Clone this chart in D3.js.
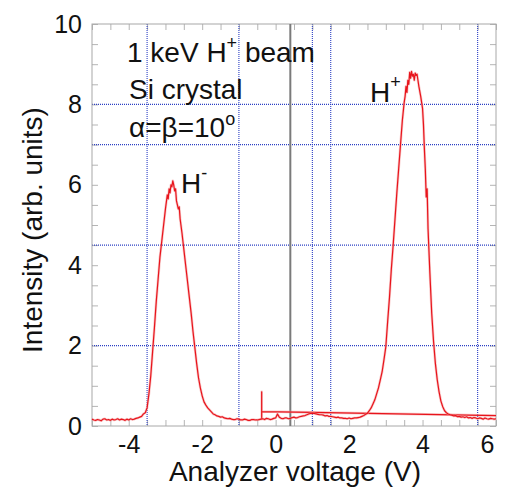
<!DOCTYPE html>
<html>
<head>
<meta charset="utf-8">
<script src="https://cdn.jsdelivr.net/npm/d3@7"></script>
<style>
  html, body { margin: 0; padding: 0; background: #fff; }
  svg { display: block; }
  text { font-family: "Liberation Sans", Arial, Helvetica, sans-serif; fill: #111; }
</style>
</head>
<body>
<svg id="chart" width="507" height="488"></svg>
<script>
// ---------- data ----------
const voltage = [
  -5.0,-4.95,-4.9,-4.85,-4.8,-4.75,-4.7,-4.65,-4.6,-4.55,-4.5,-4.45,-4.4,-4.35,-4.3,-4.25,-4.2,-4.15,-4.1,-4.05,-4.0,-3.95,-3.9,-3.85,-3.8,-3.75,-3.7,-3.65,-3.6,
  -3.55,-3.5,-3.45,-3.4,-3.35,-3.3,-3.25,-3.2,-3.15,-3.1,-3.05,-3.0,-2.95,-2.925,-2.9,-2.875,-2.85,-2.825,-2.8,-2.775,-2.75,-2.725,-2.7,-2.65,-2.625,-2.6,-2.55,-2.5,-2.45,-2.4,-2.35,-2.3,-2.25,-2.2,-2.15,-2.1,-2.05,-2.0,-1.95,-1.9,-1.85,-1.8,-1.75,-1.7,-1.65,-1.6,
  -1.55,-1.5,-1.45,-1.4,-1.35,-1.3,-1.25,-1.2,-1.15,-1.1,-1.05,-1.0,-0.95,-0.9,-0.85,-0.8,-0.75,-0.7,-0.65,-0.6,-0.55,-0.5,-0.45,-0.4,-0.35,-0.3,-0.25,-0.2,-0.15,-0.1,-0.05,
  0.0,0.05,0.1,0.15,0.2,0.25,0.3,0.35,0.4,0.45,0.5,0.55,0.6,0.65,0.7,0.75,0.8,0.85,0.9,0.95,1.0,1.05,1.1,1.15,1.2,1.25,1.3,1.35,1.4,1.45,1.5,1.55,1.6,1.65,1.7,1.75,1.8,1.85,1.9,1.95,2.0,2.05,2.1,2.15,2.2,2.25,2.3,2.35,2.4,2.45,
  2.5,2.55,2.6,2.65,2.7,2.75,2.8,2.85,2.9,2.95,3.0,3.05,3.1,3.15,3.2,3.25,3.3,3.35,3.4,3.45,3.5,3.525,3.55,3.575,3.6,3.625,3.65,3.675,3.7,3.725,3.75,3.775,3.8,3.825,3.85,3.875,3.9,3.95,4.0,4.025,4.05,4.075,4.1,4.125,4.15,4.2,4.25,4.3,4.35,4.4,4.45,4.5,4.55,4.6,4.65,
  4.7,4.75,4.8,4.85,4.9,4.95,5.0,5.05,5.1,5.15,5.2,5.25,5.3,5.35,5.4,5.45,5.5,5.55,5.6,5.65,5.7,5.75,5.8,5.85,5.9,5.95,6.0
];
const intensity = [
  0.17,0.15,0.14,0.16,0.15,0.13,0.17,0.18,0.15,0.16,0.14,0.17,0.15,0.16,0.18,0.15,0.17,0.16,0.14,0.17,0.15,0.18,0.16,0.17,0.19,0.2,0.22,0.24,0.3,
  0.33,0.45,0.8,1.25,1.85,2.45,3.1,3.65,4.2,4.6,5.0,5.4,5.75,5.65,5.9,5.8,6.0,5.95,6.1,6.0,5.85,5.9,5.6,5.4,5.45,5.15,4.8,4.4,4.0,3.6,3.2,2.8,2.35,1.95,1.55,1.2,0.95,0.75,0.6,0.52,0.45,0.4,0.35,0.3,0.28,0.25,
  0.24,0.22,0.23,0.2,0.19,0.18,0.19,0.17,0.16,0.16,0.18,0.17,0.15,0.15,0.17,0.16,0.14,0.14,0.16,0.16,0.15,0.15,0.16,0.17,0.18,0.16,0.19,0.18,0.16,0.17,0.19,
  0.2,0.3,0.22,0.19,0.18,0.2,0.2,0.18,0.19,0.21,0.22,0.2,0.21,0.23,0.24,0.25,0.26,0.28,0.3,0.31,0.32,0.31,0.3,0.29,0.28,0.28,0.27,0.25,0.26,0.24,0.24,0.23,0.22,0.21,0.22,0.2,0.2,0.19,0.19,0.18,0.2,0.18,0.19,0.2,0.2,0.21,0.22,0.24,0.26,0.29,
  0.32,0.38,0.45,0.55,0.65,0.8,0.95,1.15,1.35,1.65,1.97,2.6,3.2,3.9,4.5,5.15,5.8,6.4,7.0,7.6,8.05,8.2,8.45,8.3,8.6,8.5,8.8,8.65,8.82,8.7,8.75,8.6,8.78,8.72,8.75,8.6,8.45,8.2,7.9,7.5,6.9,6.4,5.7,5.9,4.9,3.8,2.8,2.1,1.55,1.15,0.85,0.62,0.48,0.38,0.33,
  0.3,0.28,0.27,0.25,0.26,0.23,0.24,0.22,0.23,0.21,0.23,0.2,0.21,0.19,0.21,0.2,0.18,0.2,0.19,0.17,0.2,0.18,0.17,0.19,0.18,0.17,0.18
];
// second (retrace) trace
const retraceVoltage   = [-0.38, -0.38, -0.38, 1.0, 6.0];
const retraceIntensity = [0.17, 0.85, 0.36, 0.34, 0.26];

const xDomain = [-5, 6];
const yDomain = [0, 10];
const xTickLabels = [-4, -2, 0, 2, 4, 6];
const yTickLabels = [0, 2, 4, 6, 8, 10];
const xGrid = [-3.5, -1, 1, 1.5, 5.5];
const yGrid = [2, 4.5, 7, 8];
const markerVoltage = 0.4;

// ---------- layout ----------
const W = 507, H = 488;
const m = {left: 92, top: 24, right: 11, bottom: 62};
const iw = W - m.left - m.right, ih = H - m.top - m.bottom;

const svg = d3.select("#chart");
const g = svg.append("g").attr("transform", `translate(${m.left},${m.top})`);

const x = d3.scaleLinear().domain(xDomain).range([0, iw]);
const y = d3.scaleLinear().domain(yDomain).range([ih, 0]);

// minor tick values every 0.5
const xMinor = d3.range(xDomain[0], xDomain[1] + 0.001, 0.5);
const yMinor = d3.range(yDomain[0], yDomain[1] + 0.001, 0.5);

function tickAxis(axis, transform) {
  const a = g.append("g").attr("transform", transform).call(axis);
  a.select(".domain").remove();
  a.selectAll("line").attr("stroke", "#b5b5b5").attr("stroke-width", 1);
  return a;
}
tickAxis(d3.axisBottom(x).tickValues(xMinor).tickSize(-6).tickFormat(""), `translate(0,${ih})`);
tickAxis(d3.axisTop(x).tickValues(xMinor).tickSize(-6).tickFormat(""), `translate(0,0)`);
tickAxis(d3.axisLeft(y).tickValues(yMinor).tickSize(-6).tickFormat(""), `translate(0,0)`);
tickAxis(d3.axisRight(y).tickValues(yMinor).tickSize(-6).tickFormat(""), `translate(${iw},0)`);

// grid lines (blue dotted)
const gridColor = "#2b3fc4";
g.append("g").selectAll("line").data(xGrid).join("line")
  .attr("x1", d => x(d)).attr("x2", d => x(d))
  .attr("y1", 0).attr("y2", ih)
  .attr("stroke", gridColor).attr("stroke-width", 1.1).attr("stroke-dasharray", "1,1");
g.append("g").selectAll("line").data(yGrid).join("line")
  .attr("x1", 0).attr("x2", iw)
  .attr("y1", d => y(d)).attr("y2", d => y(d))
  .attr("stroke", gridColor).attr("stroke-width", 1.1).attr("stroke-dasharray", "1,1");

// frame
g.append("rect").attr("x", 0).attr("y", 0).attr("width", iw).attr("height", ih)
  .attr("fill", "none").attr("stroke", "#a8a8a8").attr("stroke-width", 1);

// gray marker line
g.append("line")
  .attr("x1", x(markerVoltage)).attr("x2", x(markerVoltage))
  .attr("y1", 0).attr("y2", ih)
  .attr("stroke", "#7a7a7a").attr("stroke-width", 2);

// data lines
const line = d3.line().x(d => x(d[0])).y(d => y(d[1]));
const mainPts = voltage.map((v, i) => [v, intensity[i]]);
const retracePts = retraceVoltage.map((v, i) => [v, retraceIntensity[i]]);

[retracePts, mainPts].forEach(pts => {
  g.append("path").datum(pts).attr("d", line)
    .attr("fill", "none").attr("stroke", "#f39a9a").attr("stroke-width", 2.6)
    .attr("stroke-opacity", 0.55).attr("stroke-linejoin", "round");
  g.append("path").datum(pts).attr("d", line)
    .attr("fill", "none").attr("stroke", "#e8141c").attr("stroke-width", 1.2)
    .attr("stroke-linejoin", "round");
});

// tick labels (plain hyphen minus, as in the reference)
const fmt = d => String(d);
const xl = g.append("g").attr("transform", `translate(0,${ih})`)
  .call(d3.axisBottom(x).tickValues(xTickLabels).tickSize(0).tickPadding(9).tickFormat(fmt));
xl.select(".domain").remove();
xl.selectAll("text").style("font-size", "25px").attr("fill", "#111")
  .attr("dx", d => d === xDomain[1] ? -9 : 0);

const yl = g.append("g")
  .call(d3.axisLeft(y).tickValues(yTickLabels).tickSize(0).tickPadding(10).tickFormat(fmt));
yl.select(".domain").remove();
yl.selectAll("text").style("font-size", "25px").attr("fill", "#111");

// axis titles
svg.append("text").attr("x", 295).attr("y", 481)
  .attr("text-anchor", "middle").style("font-size", "28px")
  .text("Analyzer voltage (V)");
svg.append("text").attr("transform", "translate(42,230) rotate(-90)")
  .attr("text-anchor", "middle").style("font-size", "28px")
  .text("Intensity (arb. units)");

// annotations
const ann = svg.append("g").style("font-size", "28px");
const t1 = ann.append("text").attr("x", 127).attr("y", 62);
t1.append("tspan").text("1 keV H");
t1.append("tspan").attr("dy", -13).style("font-size", "18px").text("+");
t1.append("tspan").attr("dy", 13).text(" beam");

ann.append("text").attr("x", 129).attr("y", 99).text("Si crystal");

const t3 = ann.append("text").attr("x", 129).attr("y", 137);
t3.append("tspan").text("α=β=10");
t3.append("tspan").attr("dy", -12).style("font-size", "18px").text("o");

const hp = ann.append("text").attr("x", 370).attr("y", 102);
hp.append("tspan").text("H");
hp.append("tspan").attr("dy", -14).style("font-size", "18px").text("+");

const hm = ann.append("text").attr("x", 181).attr("y", 193);
hm.append("tspan").text("H");
hm.append("tspan").attr("dy", -14).style("font-size", "18px").text("-");
</script>
</body>
</html>
